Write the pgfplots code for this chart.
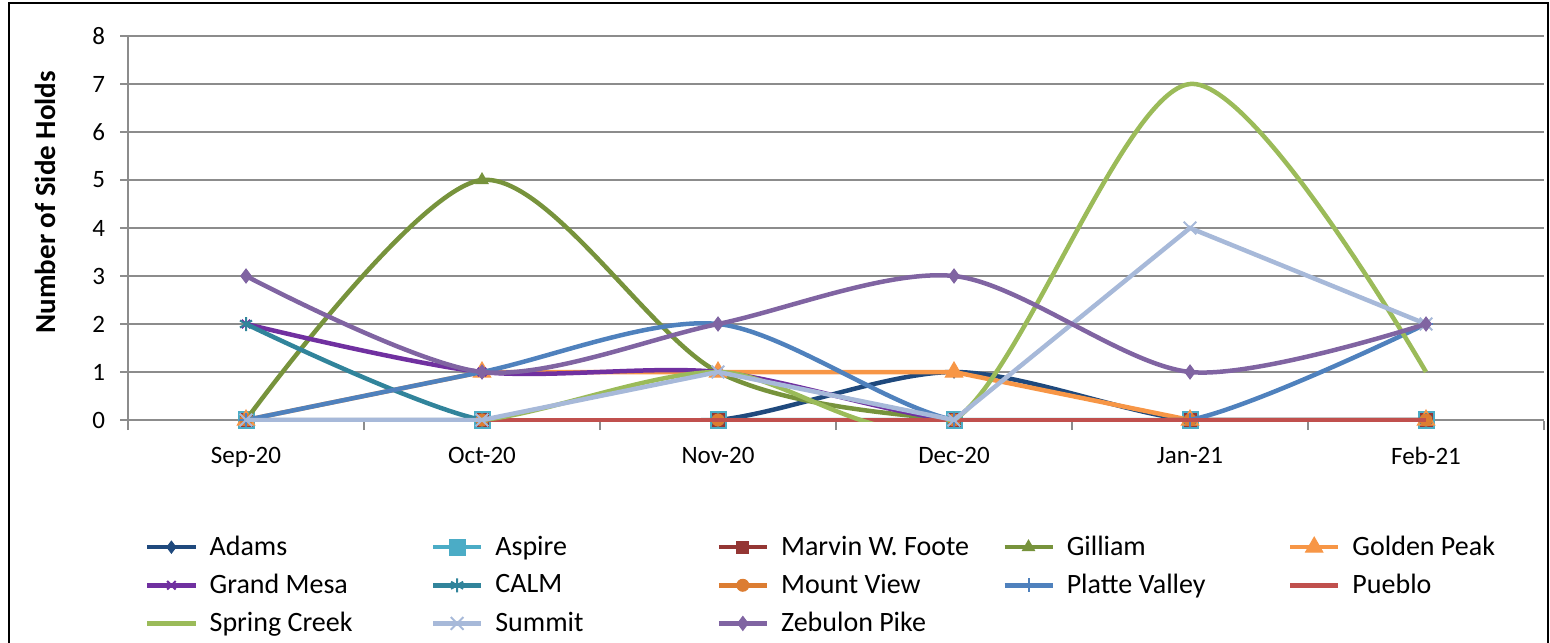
\documentclass[border=0pt]{standalone}
\usepackage{fontspec}
\setmainfont{Carlito}
\usepackage{pgfplots}
\pgfplotsset{compat=1.18}
\definecolor{gridgray}{HTML}{8C8C8C}
\definecolor{cAdams}{HTML}{1F497D}
\definecolor{cAspire}{HTML}{4BACC6}
\definecolor{cMarvin}{HTML}{943634}
\definecolor{cGilliam}{HTML}{77933C}
\definecolor{cGolden}{HTML}{F79646}
\definecolor{cGrand}{HTML}{7030A0}
\definecolor{cCalm}{HTML}{31849B}
\definecolor{cMount}{HTML}{DC7D32}
\definecolor{cPlatte}{HTML}{4F81BD}
\definecolor{cPueblo}{HTML}{C0504D}
\definecolor{cSpring}{HTML}{9BBB59}
\definecolor{cSummit}{HTML}{A7B9D9}
\definecolor{cZebulon}{HTML}{8064A2}
\newcommand{\legE}[1]{\addlegendentry{\makebox[108.6pt][l]{#1}}}
\begin{document}
\begin{tikzpicture}
\useasboundingbox (0,0) rectangle (775pt,321pt);
\draw[line width=1pt] (4.5pt,-3pt) rectangle (774pt,319.5pt);
\begin{axis}[
  at={(64pt,110.4pt)}, anchor=south west,
  scale only axis, width=708pt, height=192.6pt,
  xmin=-0.5, xmax=5.5, ymin=-0.025, ymax=8,
  xtick={0,...,5},
  xticklabels={Sep-20,Oct-20,Nov-20,Dec-20,Jan-21,Feb-21},
  xtick style={draw=none},
  extra x ticks={-0.5,0.5,1.5,2.5,3.5,4.5,5.5},
  extra x tick labels={},
  extra x tick style={grid=none, xtick style={draw=gridgray, line width=0.75pt}, major tick length=4.5pt},
  ytick={0,...,8},
  ymajorgrids,
  grid style={gridgray, line width=0.75pt},
  extra y ticks={0},
  extra y tick labels={},
  extra y tick style={grid style={gridgray, line width=1pt}},
  axis x line*=bottom, axis y line*=left,
  axis line style={gridgray, line width=1pt, -},
  x axis line style={draw=none},
  tick align=outside, major tick length=4pt,
  ytick style={gridgray, line width=0.75pt},
  tick label style={font=\fontsize{12.5}{14}\selectfont, text=black},
  /pgf/number format/assume math mode=true,
  xticklabel style={yshift=-5.4pt},
  yticklabel style={xshift=-4pt},
  ylabel={\textbf{Number of Side Holds}},
  ylabel style={at={(axis description cs:-0.0586,0.5686)}, anchor=center, font=\fontsize{14.5}{16}\selectfont},
  clip mode=individual,
  every axis plot/.append style={line width=2.25pt},
  legend columns=5,
  legend cell align=left,
  legend style={at={(axis description cs:0.0076,-0.276)}, anchor=north west, draw=none, fill=none,
    font=\fontsize{14}{16}\selectfont,
    /tikz/every odd column/.append style={column sep=4pt},
    row sep=3.85pt},
  legend image code/.code={\draw[mark repeat=2,mark phase=2] plot coordinates {(0pt,0pt)(12pt,0pt)(24pt,0pt)};},
]
\addplot[smooth, color=cAdams, mark=diamond*, mark size=3pt, mark options={solid, fill=cAdams, line width=0.5pt}]
  coordinates {(0,0)(1,0)(2,0)(3,1)(4,0)(5,0)};
\legE{Adams}
\addplot[smooth, color=cAspire, mark=square*, mark size=4pt, mark options={solid, fill=cAspire, line width=0.5pt}]
  coordinates {(0,0)(1,0)(2,0)(3,0)(4,0)(5,0)};
\legE{Aspire}
\addplot[smooth, color=cMarvin, mark=square*, mark size=3pt, mark options={solid, fill=cMarvin, line width=0.5pt}]
  coordinates {(0,0)(1,0)(2,0)(3,0)(4,0)(5,0)};
\legE{Marvin W. Foote}
\addplot[smooth, color=cGilliam, mark=triangle*, mark size=3.5pt, mark options={solid, fill=cGilliam, line width=0.5pt}]
  coordinates {(0,0)(1,5)(2,1)(3,0)(4,0)(5,0)};
\legE{Gilliam}
\addplot[color=cGolden, mark=triangle*, mark size=5pt, mark options={solid, fill=cGolden, line width=0.5pt}]
  coordinates {(0,0)(1,1)(2,1)(3,1)(4,0)(5,0)};
\legE{Golden Peak}
\addplot[smooth, color=cGrand, mark=x, mark size=3pt, mark options={solid, line width=1pt}]
  coordinates {(0,2)(1,1)(2,1)(3,0)(4,0)(5,0)};
\legE{Grand Mesa}
\addplot[smooth, color=cCalm, mark=asterisk, mark size=3.5pt, mark options={solid, line width=1pt}]
  coordinates {(0,2)(1,0)(2,0)(3,0)(4,0)(5,0)};
\legE{CALM}
\addplot[smooth, color=cMount, mark=*, mark size=3pt, mark options={solid, fill=cMount, line width=0.5pt}]
  coordinates {(0,0)(1,0)(2,0)(3,0)(4,0)(5,0)};
\legE{Mount View}
\addplot[smooth, color=cPlatte, mark=+, mark size=3.5pt, mark options={solid, line width=1pt}]
  coordinates {(0,0)(1,1)(2,2)(3,0)(4,0)(5,2)};
\legE{Platte Valley}
\addplot[smooth, color=cPueblo]
  coordinates {(0,0)(1,0)(2,0)(3,0)(4,0)(5,0)};
\legE{Pueblo}
\addplot[smooth, color=cSpring]
  coordinates {(0,0)(1,0)(2,1)(3,0)(4,7)(5,1)};
\legE{Spring Creek}
\addplot[color=cSummit, mark=x, mark size=4.5pt, mark options={solid, line width=1pt}]
  coordinates {(0,0)(1,0)(2,1)(3,0)(4,4)(5,2)};
\legE{Summit}
\addplot[smooth, color=cZebulon, mark=diamond*, mark size=3.5pt, mark options={solid, fill=cZebulon, line width=0.5pt}]
  coordinates {(0,3)(1,1)(2,2)(3,3)(4,1)(5,2)};
\legE{Zebulon Pike}
\end{axis}
\end{tikzpicture}
\end{document}
